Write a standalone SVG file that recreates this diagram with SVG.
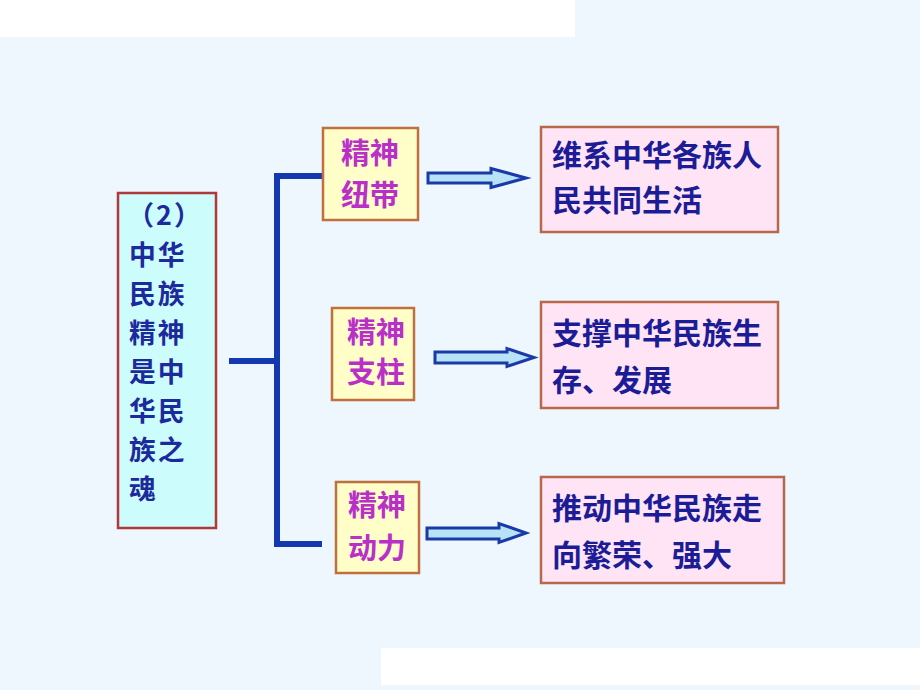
<svg xmlns="http://www.w3.org/2000/svg" width="920" height="690" viewBox="0 0 920 690">
<defs>
<style>
.t{font-family:"Noto Sans CJK SC","Noto Sans CJK TC",sans-serif;font-weight:bold;}
.lt{font-size:26.8px;fill:#1c2a9c;letter-spacing:2px;}
.mt{font-size:29px;fill:#b830c8;}
.rt{font-size:30px;fill:#1c1c96;}
.lbox{fill:#ccfcfc;stroke:#b03838;stroke-width:2.5;}
.mbox{fill:#fffdc8;stroke:#c0703c;stroke-width:2.5;}
.rbox{fill:#ffe4f6;stroke:#b8684a;stroke-width:2.5;}
.conn{fill:none;stroke:#1438b0;stroke-width:6;}
.arr{fill:#b8e2f6;stroke:#1a3aa8;stroke-width:3;stroke-linejoin:miter;}
</style>
</defs>
<rect x="0" y="0" width="920" height="690" fill="#eef6fe"/>
<rect x="0" y="0" width="575" height="37" fill="#ffffff"/>
<rect x="381" y="648" width="539" height="37" fill="#ffffff"/>

<g id="connectors">
<path class="conn" d="M322,176 H277 V544 H322"/>
<path class="conn" d="M229,361 H277"/>
<path class="arr" d="M428,173 H491 V168.5 L526,178 L491,187.5 V183 H428 Z"/>
<path class="arr" d="M435,352 H507 V348.5 L534,357.5 L507,366.5 V363 H435 Z"/>
<path class="arr" d="M427,528 H499 V523.5 L526,533 L499,542.5 V539 H427 Z"/>
</g>

<g id="root">
<rect class="lbox" x="118" y="193" width="98" height="335"/>
<text class="t lt"><tspan x="165" y="225" text-anchor="middle">（2）</tspan><tspan x="129" y="265">中华</tspan><tspan x="129" y="304">民族</tspan><tspan x="129" y="343">精神</tspan><tspan x="129" y="382">是中</tspan><tspan x="129" y="421">华民</tspan><tspan x="129" y="460">族之</tspan><tspan x="129" y="499">魂</tspan></text>
</g>

<g id="m1">
<rect class="mbox" x="323" y="128" width="95" height="92"/>
<text class="t mt" text-anchor="middle"><tspan x="370" y="164">精神</tspan><tspan x="370" y="206">纽带</tspan></text>
</g>
<g id="m2">
<rect class="mbox" x="332" y="308" width="82" height="92"/>
<text class="t mt" text-anchor="middle"><tspan x="376" y="343">精神</tspan><tspan x="376" y="383">支柱</tspan></text>
</g>
<g id="m3">
<rect class="mbox" x="336" y="482" width="83" height="91"/>
<text class="t mt" text-anchor="middle"><tspan x="377" y="516">精神</tspan><tspan x="377" y="559">动力</tspan></text>
</g>

<g id="r1">
<rect class="rbox" x="541" y="127" width="237" height="105"/>
<text class="t rt"><tspan x="552" y="166">维系中华各族人</tspan><tspan x="552" y="211">民共同生活</tspan></text>
</g>
<g id="r2">
<rect class="rbox" x="541" y="302" width="237" height="106"/>
<text class="t rt"><tspan x="552" y="344">支撑中华民族生</tspan><tspan x="552" y="391">存、发展</tspan></text>
</g>
<g id="r3">
<rect class="rbox" x="541" y="477" width="243" height="106"/>
<text class="t rt"><tspan x="552" y="519">推动中华民族走</tspan><tspan x="552" y="566">向繁荣、强大</tspan></text>
</g>
</svg>
